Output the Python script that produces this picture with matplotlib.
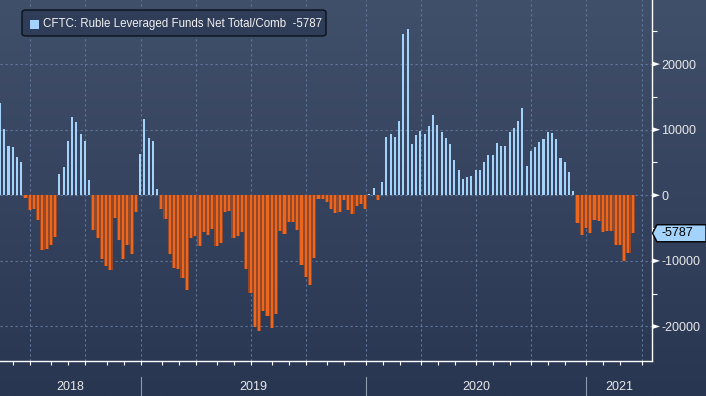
import numpy as np
import pandas as pd
import matplotlib
matplotlib.use("Agg")
import matplotlib.pyplot as plt
import matplotlib.dates as mdates
from matplotlib.patches import FancyBboxPatch, Polygon, Rectangle
from matplotlib.lines import Line2D

plt.rcParams['font.family'] = ['Liberation Sans', 'DejaVu Sans']

# ---------------- data ----------------
start_date = "2018-05-08"   # weekly CFTC observations (Tuesdays)
values = [
    14070, 10060, 7470, 7320, 5790, 5030, -360, -2180, -2130, -3810,
    -8380, -8230, -7620, -6400, 3200, 4270, 8230, 11890, 11130, 9300,
    8230, 2290, -5330, -6500, -9750, -10770, -11430, -3500, -6860, -9750,
    -7620, -8890, -2540, 6250, 11580, 8690, 8230, 910, -2130, -3660,
    -8990, -11020, -11280, -12600, -14380, -6500, -6250, -7720, -5640, -6050,
    -5180, -7720, -7320, -2540, -2390, -6500, -6200, -5640, -11280, -14940,
    -20070, -20680, -17630, -18440, -20220, -18080, -5440, -5940, -4110, -4110,
    -5280, -10620, -12450, -13720, -9550, -610, -610, -1020, -2080, -2740,
    -2590, -760, -2240, -2900, -1630, -1270, -2030, 150, 1120, -710,
    2030, 8890, 9350, 8890, 11330, 24590, 25350, 7820, 9190, 9800,
    9350, 10570, 12240, 10720, 9650, 8740, 7820, 5380, 3860, 2490,
    2790, 2950, 3860, 3860, 5080, 6150, 6150, 7980, 7520, 7520,
    9650, 10260, 11330, 13310, 4470, 6760, 7370, 8130, 8590, 9650,
    9500, 8590, 5690, 5080, 3560, 660, -4170, -5990, -4930, -5690,
    -3710, -3860, -5540, -5380, -5380, -7620, -7520, -9960, -8740, -5787,
]
ytick_values = [-20000, -10000, 0, 10000, 20000]
yminor_values = [-15000, -5000, 5000, 15000, 25000]
year_labels = ["2018", "2019", "2020", "2021"]
legend_label = "CFTC: Ruble Leveraged Funds Net Total/Comb"

# ---------------- figure ----------------
W, H = 706, 396
fig = plt.figure(figsize=(W / 100, H / 100), dpi=100)

bg = fig.add_axes([0, 0, 1, 1], zorder=-10)
top_c = np.array([0x41, 0x50, 0x6a]) / 255
bot_c = np.array([0x29, 0x36, 0x52]) / 255
t = np.linspace(0, 1, 256)[:, None]
grad = (top_c[None, :] * (1 - t) + bot_c[None, :] * t)[:, None, :]
bg.imshow(grad, aspect="auto", extent=[0, 1, 0, 1])
bg.axis("off")

AX_R, AX_B = 652, 361
ax = fig.add_axes([0, 1 - AX_B / H, AX_R / W, AX_B / H])
ax.set_facecolor("none")

dates = pd.date_range(start_date, periods=len(values), freq="7D")
x = mdates.date2num(dates)
vals = np.array(values, dtype=float)
neg = vals < 0

ax.bar(x[neg], vals[neg], width=7.0, color="#94492a", zorder=2, linewidth=0)
ax.bar(x[neg], vals[neg], width=3.4, color="#ec661d", zorder=3, linewidth=0)
ax.bar(x[~neg], vals[~neg], width=3.4, color="#a3d3fb", zorder=3, linewidth=0)

px_per_day = 4.246 / 7
left = x[0]
right = x[-1] + (AX_R - 632.7) / px_per_day
ax.set_xlim(left, right)
ax.set_ylim(-25260, 29770)

# index-style period boundaries (first weekly bar of each period)
tues = pd.date_range(start_date, "2021-12-31", freq="7D")
def period_pos(d):
    first = tues[tues >= pd.Timestamp(d)][0]
    return mdates.date2num(first) - 6.3

q_pos = [period_pos(q) for q in pd.date_range("2018-04-01", "2021-04-01", freq="QS")]
q_pos = [p for p in q_pos if left < p < right]
m_pos = [period_pos(m) for m in pd.date_range("2018-05-01", "2021-04-01", freq="MS")]
m_pos = [p for p in m_pos if left < p < right]
y_pos = [period_pos(f"{y}-01-01") for y in (2019, 2020, 2021)]

grid_kw = dict(color="#60779a", lw=0.8, ls=(0, (2, 2.5)), zorder=1)
for p in q_pos:
    ax.axvline(p, **grid_kw)
for v in ytick_values:
    ax.axhline(v, **grid_kw)

for s in ("top", "left"):
    ax.spines[s].set_visible(False)
for s in ("bottom", "right"):
    ax.spines[s].set_color("white")
    ax.spines[s].set_linewidth(1.0)

ax.set_xticks(m_pos)
ax.set_xticklabels([])
ax.tick_params(axis="x", direction="out", length=3, width=0.8, color="white")

ax.yaxis.tick_right()
ax.set_yticks(ytick_values)
ax.set_yticklabels([str(v) for v in ytick_values])
ax.set_yticks(yminor_values, minor=True)
ax.tick_params(axis="y", which="major", length=0, pad=6.5, labelsize=9,
               labelcolor="#e8e8e8")
ax.tick_params(axis="y", which="minor", direction="out", length=3.5,
               width=0.8, color="white")

fig.canvas.draw()

def disp(xd, yd):
    return ax.transData.transform((xd, yd))

# triangle major tick markers
for v in ytick_values:
    _, yp = disp(left, v)
    tri = Polygon([(AX_R, yp - 2.6), (AX_R, yp + 2.6), (AX_R + 8, yp)],
                  closed=True, transform=None, facecolor="white",
                  edgecolor="none", zorder=5)
    fig.patches.append(tri)

# last value tag
_, yc = disp(left, values[-1])
tag = Polygon([(AX_R + 0.5, yc), (AX_R + 5, yc + 8.5), (W, yc + 8.5),
               (W, yc - 8.5), (AX_R + 5, yc - 8.5)], closed=True,
              transform=None, facecolor="#a3d3fb", edgecolor="black",
              lw=1.0, zorder=6)
fig.patches.append(tag)
fig.text(661 / W, yc / H, f"{values[-1]}", ha="left", va="center",
         fontsize=9, color="black", zorder=7)

# year separators and labels
ysep_px = [(p - left) / (right - left) * AX_R for p in y_pos]
for xp in ysep_px:
    fig.lines.append(Line2D([xp / W, xp / W], [0, 1 - 377 / H],
                            transform=fig.transFigure, color="#8e99ab", lw=0.8))
bounds = [0] + ysep_px + [AX_R]
for i, lab in enumerate(year_labels):
    cx = (bounds[i] + bounds[i + 1]) / 2
    fig.text(cx / W, 1 - 387 / H, lab, ha="center", va="center",
             fontsize=9, color="#e8e8e8")

# legend box
lb = FancyBboxPatch((22 / W, 1 - 36 / H), (326 - 22) / W, 26 / H,
                    boxstyle="round,pad=0,rounding_size=0.006",
                    transform=fig.transFigure, facecolor="#2f3d58",
                    edgecolor="#0b111a", lw=1.0, zorder=8)
fig.patches.append(lb)
fig.patches.append(Rectangle((30 / W, 1 - 29 / H), 9 / W, 9 / H,
                             transform=fig.transFigure, facecolor="#a3d3fb",
                             edgecolor="none", zorder=9))
fig.text(43 / W, 1 - 24 / H, f"{legend_label}  {values[-1]}", ha="left",
         va="center", fontsize=8.3, color="#f2f2f2", zorder=10)

fig.savefig("out.png", dpi=100)
